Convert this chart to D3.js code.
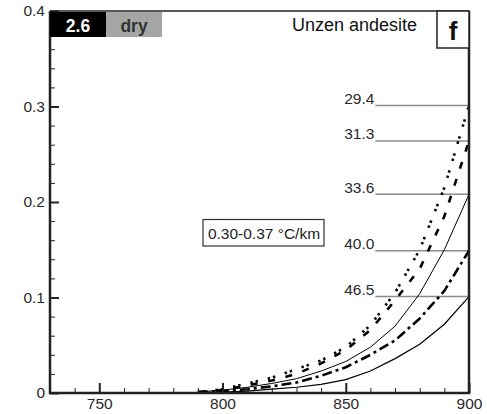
<!DOCTYPE html>
<html>
<head>
<meta charset="utf-8">
<script src="https://cdn.jsdelivr.net/npm/d3@7"></script>
<style>
	body { margin: 0; background: #fff; }
	text { font-family: "Liberation Sans", Arial, sans-serif; }
</style>
</head>
<body>
<svg id="chart" width="487" height="414"></svg>
<script>
// temperature (x) and values, one array per curve
const temps = [790, 800, 810, 820, 830, 840, 850, 860, 870, 880, 890, 900];
const curve294 = [0.001, 0.004, 0.010, 0.016, 0.025, 0.034, 0.048, 0.071, 0.105, 0.150, 0.215, 0.301];
const curve313 = [0.001, 0.003, 0.008, 0.013, 0.020, 0.031, 0.045, 0.066, 0.097, 0.130, 0.185, 0.264];
const curve336 = [0.001, 0.003, 0.006, 0.010, 0.015, 0.023, 0.033, 0.048, 0.070, 0.104, 0.150, 0.208];
const curve400 = [0.001, 0.002, 0.004, 0.007, 0.011, 0.018, 0.027, 0.040, 0.055, 0.078, 0.107, 0.149];
const curve465 = [0.0005, 0.001, 0.002, 0.004, 0.006, 0.009, 0.014, 0.023, 0.036, 0.051, 0.072, 0.101];
const curveLabels = ["29.4", "31.3", "33.6", "40.0", "46.5"];

const xTicks = [750, 800, 850, 900];
const yTicks = [0, 0.1, 0.2, 0.3, 0.4];
const xMinor = [740, 760, 770, 780, 790, 810, 820, 830, 840, 860, 870, 880, 890];
const yMinor = [0.02, 0.04, 0.06, 0.08, 0.12, 0.14, 0.16, 0.18, 0.22, 0.24, 0.26, 0.28, 0.32, 0.34, 0.36, 0.38];

const svg = d3.select("#chart");
const plot = { left: 50, right: 469, top: 11, bottom: 393 };

const x = d3.scaleLinear().domain([730, 900]).range([plot.left, plot.right]);
const y = d3.scaleLinear().domain([0, 0.4]).range([plot.bottom, plot.top]);

// line styles per curve
const styles = [
	{ width: 2.6, dash: "2.4,3,2.4,10" },
	{ width: 2.6, dash: "7,10.8" },
	{ width: 1, dash: null },
	{ width: 2.6, dash: "10,4,3,4" },
	{ width: 1.2, dash: null },
];
const series = [curve294, curve313, curve336, curve400, curve465];

// gray reference lines and labels at curve end values
const refG = svg.append("g");
series.forEach((vals, i) => {
	const v = vals[vals.length - 1];
	refG.append("line")
		.attr("x1", x(862)).attr("x2", x(900))
		.attr("y1", y(v)).attr("y2", y(v))
		.attr("stroke", "#8c8c8c").attr("stroke-width", 1.5);
	refG.append("text")
		.attr("x", x(862) - 1).attr("y", y(v) - 1.5)
		.attr("text-anchor", "end")
		.attr("font-size", 15.5)
		.attr("fill", "#2a2a2a")
		.text(curveLabels[i]);
});

// curves
const line = d3.line()
	.x((d, i) => x(temps[i]))
	.y((d) => y(d));

series.forEach((vals, i) => {
	svg.append("path")
		.datum(vals)
		.attr("d", line)
		.attr("fill", "none")
		.attr("stroke", "#000")
		.attr("stroke-width", styles[i].width)
		.attr("stroke-dasharray", styles[i].dash);
});

// axes, ticks point inward
const xAxis = svg.append("g")
	.attr("transform", `translate(0,${plot.bottom})`)
	.call(d3.axisBottom(x).tickValues(xTicks).tickSizeInner(-10).tickSizeOuter(0).tickPadding(5));
svg.append("g")
	.attr("transform", `translate(0,${plot.bottom})`)
	.call(d3.axisBottom(x).tickValues(xMinor).tickSizeInner(-5).tickSizeOuter(0).tickFormat(""));

const yAxis = svg.append("g")
	.attr("transform", `translate(${plot.left},0)`)
	.call(d3.axisLeft(y).tickValues(yTicks).tickSizeInner(-9).tickSizeOuter(0).tickPadding(5)
		.tickFormat((d) => (d === 0 ? "0" : d3.format(".1f")(d))));
svg.append("g")
	.attr("transform", `translate(${plot.left},0)`)
	.call(d3.axisLeft(y).tickValues(yMinor).tickSizeInner(-5).tickSizeOuter(0).tickFormat(""));

svg.selectAll(".domain").remove();
svg.selectAll(".tick line").attr("stroke", "#222").attr("stroke-width", 1);
xAxis.selectAll(".tick line").attr("stroke-width", 2);
yAxis.selectAll(".tick line").attr("stroke-width", 2);
svg.selectAll(".tick text")
	.attr("font-size", 15.5)
	.attr("fill", "#2a2a2a")
	.attr("font-family", '"Liberation Sans", Arial, sans-serif');

// frame
const frame = svg.append("g").attr("stroke", "#222").attr("fill", "none");
frame.append("line").attr("x1", plot.left).attr("x2", plot.left).attr("y1", plot.top).attr("y2", plot.bottom + 1).attr("stroke-width", 2.5);
frame.append("line").attr("x1", plot.left - 1).attr("x2", plot.right + 1).attr("y1", plot.bottom).attr("y2", plot.bottom).attr("stroke-width", 2.5);
frame.append("line").attr("x1", plot.left).attr("x2", plot.right).attr("y1", plot.top).attr("y2", plot.top).attr("stroke-width", 1.5);
frame.append("line").attr("x1", plot.right).attr("x2", plot.right).attr("y1", plot.top).attr("y2", plot.bottom + 1).attr("stroke-width", 2.5);

// top-left tag boxes
svg.append("rect").attr("x", plot.left).attr("y", plot.top + 1).attr("width", 56).attr("height", 25).attr("fill", "#000");
svg.append("text").attr("x", plot.left + 28).attr("y", plot.top + 20.5).attr("text-anchor", "middle")
	.attr("font-size", 17.5).attr("font-weight", "bold").attr("fill", "#fff").text("2.6");
svg.append("rect").attr("x", plot.left + 56).attr("y", plot.top + 1).attr("width", 56).attr("height", 25).attr("fill", "#a3a6a3");
svg.append("text").attr("x", plot.left + 84).attr("y", plot.top + 20.5).attr("text-anchor", "middle")
	.attr("font-size", 17.5).attr("font-weight", "bold").attr("fill", "#333").text("dry");

// title and panel letter
svg.append("text").attr("x", 417).attr("y", 31).attr("text-anchor", "end")
	.attr("font-size", 18).attr("fill", "#111").text("Unzen andesite");
svg.append("rect").attr("x", 437).attr("y", plot.top).attr("width", plot.right - 437).attr("height", 37)
	.attr("fill", "#fff").attr("stroke", "#222").attr("stroke-width", 1.5);
svg.append("text").attr("x", 453).attr("y", 40).attr("text-anchor", "middle")
	.attr("font-size", 26).attr("font-weight", "bold").attr("fill", "#111").text("f");

// gradient annotation box
svg.append("rect").attr("x", 203).attr("y", 219.5).attr("width", 121).attr("height", 26.5)
	.attr("fill", "#fff").attr("stroke", "#333").attr("stroke-width", 1.2);
svg.append("text").attr("x", 264).attr("y", 238.5).attr("text-anchor", "middle")
	.attr("font-size", 15.5).attr("fill", "#222").text("0.30-0.37 °C/km");
</script>
</body>
</html>
